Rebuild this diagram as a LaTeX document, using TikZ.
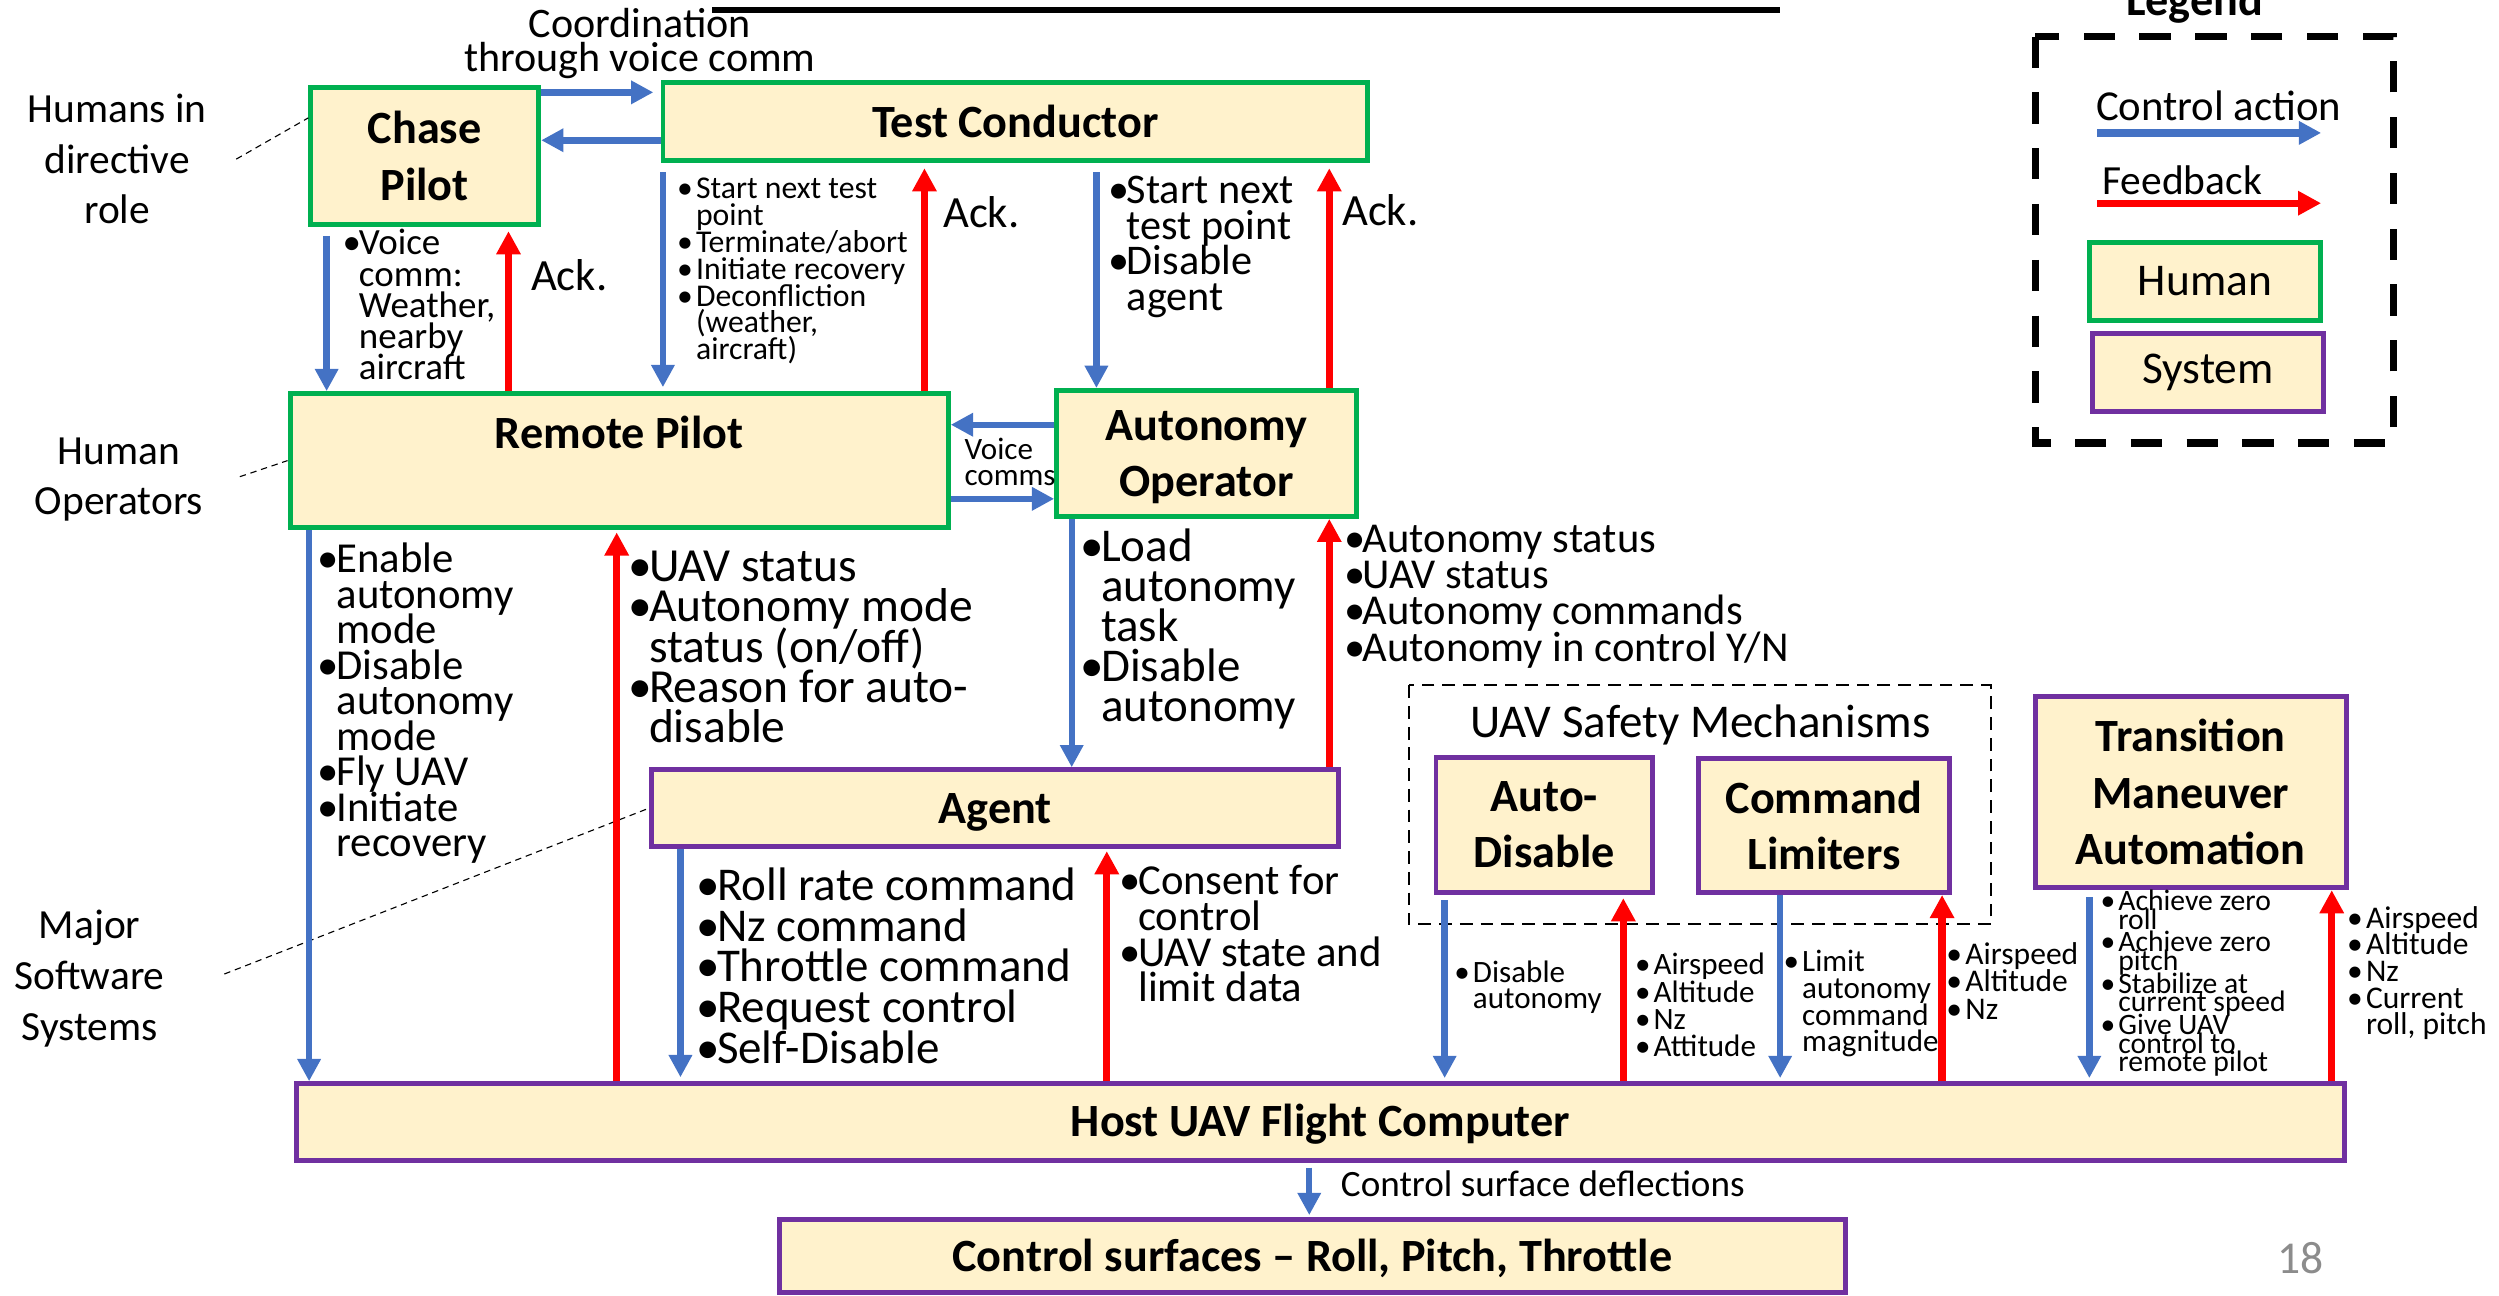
\documentclass[tikz,border=0pt]{standalone}
\usepackage{fontspec}
\setmainfont{Carlito}
\usetikzlibrary{arrows.meta}

\definecolor{boxfill}{HTML}{FFF2CC}
\definecolor{humgreen}{HTML}{00B050}
\definecolor{syspurple}{HTML}{7030A0}
\definecolor{ctrlblue}{HTML}{4472C4}
\definecolor{fbred}{HTML}{FF0000}
\definecolor{pagegray}{HTML}{8C8C8C}

\newcommand{\fsz}[2]{\fontsize{#1}{#2}\selectfont\lineskiplimit=-\maxdimen}
\newcommand{\itm}{\makebox[0.44em][l]{\textbullet}}
\newcommand{\ind}{\hspace*{0.44em}}
\newcommand{\itmw}{\makebox[0.6em][l]{\textbullet}}
\newcommand{\indw}{\hspace*{0.6em}}

\tikzset{
    human/.style={draw=humgreen, fill=boxfill, line width=3.1pt, align=center,
        inner sep=0pt, font={\bfseries\fsz{29}{35.5}}},
    system/.style={human, draw=syspurple},
    ctrl/.style={draw=ctrlblue, line width=4pt, -{Triangle[length=14pt,width=14pt]}},
    fb/.style={draw=fbred, line width=4.6pt, -{Triangle[length=14.5pt,width=14.5pt]}},
    note/.style={anchor=base west, align=left, inner sep=0pt},
    lead/.style={line width=0.7pt, dash pattern=on 4pt off 3pt}
}

\begin{document}
\begin{tikzpicture}[x=1pt,y=-1pt]
    \useasboundingbox (0,0) rectangle (1568,813);

    % Title rule
    \draw[line width=3.8pt] (447,6) -- (1117,6);

    % Humans
    \node[human, minimum width=143pt, minimum height=86pt] (cp) at (266.5,98) {Chase\\Pilot};
    \node[human, minimum width=442pt, minimum height=49pt] (tc) at (637,76.5) {Test Conductor};
    \node[human, minimum width=413pt, minimum height=84pt] (rp) at (388.5,289) {Remote Pilot\\\mbox{}};
    \node[human, minimum width=188pt, minimum height=79pt, text depth=0pt] (ao) at (757,284.5) {Autonomy\\Operator};

    % Systems
    \node[system, minimum width=431pt, minimum height=48pt, text height=25pt, text depth=6pt] (agent) at (624.5,507) {Agent};
    \node[system, minimum width=136pt, minimum height=85pt] (ad) at (969,517.5) {Auto-\\Disable};
    \node[system, minimum width=157pt, minimum height=84pt] (cl) at (1144.5,518) {Command\\Limiters};
    \node[system, minimum width=195pt, minimum height=120pt] (tma) at (1374.5,497) {Transition\\Maneuver\\Automation};
    \node[system, minimum width=1285pt, minimum height=48pt, text height=24pt, text depth=6pt] (host) at (828.5,704) {Host UAV Flight Computer};
    \node[system, minimum width=669pt, minimum height=46pt, text height=23.6pt, text depth=4pt] (cs) at (823.5,788) {Control surfaces \textendash{} Roll, Pitch, Throttle};

    % Safety mechanisms group
    \draw[line width=1.3pt, dash pattern=on 8pt off 5pt] (884,430) rectangle (1249,580);
    \node[font={\fsz{29.5}{30}}, anchor=base] (smtitle) at (1067,462.5) {UAV Safety Mechanisms};

    % Side labels (base = last line)
    \node[align=center, font={\fsz{26}{31.7}}, anchor=base] (hdir) at (73.5,140.4) {Humans in\\directive\\role};
    \node[align=center, font={\fsz{26}{31.3}}, anchor=base] (hop) at (74.7,323) {Human\\Operators};
    \node[align=center, font={\fsz{26}{32}}, anchor=base] (msw) at (56.2,653) {Major\\Software\\Systems};
    \draw[lead] ([xshift=15pt]hdir.east) -- ([yshift=-20.5pt]cp.north west);
    \draw[lead] ([xshift=19.5pt,yshift=2pt]hop.east) -- (rp.west);
    \draw[lead] ([xshift=34pt,yshift=3pt]msw.east) -- (agent.west);

    % Coordination between humans
    \node[align=center, font={\fsz{26.4}{21.6}}, anchor=base] (coord) at (401.4,45) {Coordination\\through voice comm};
    \draw[ctrl, line width=4.2pt, shorten >=4.5pt] ([yshift=-4.5pt]cp.north east) -- ([yshift=-4.5pt]cp.north east -| tc.west);
    \draw[ctrl, line width=4.2pt] ([yshift=-11.5pt]tc.west) -- ([yshift=-11.5pt]tc.west -| cp.east);

    % Chase pilot to remote pilot
    \draw[ctrl, shorten <=5.5pt] ([xshift=11.5pt]cp.south west) -- ([xshift=11.5pt]cp.south west |- rp.north);
    \draw[fb, shorten >=2.5pt] ([xshift=-20.5pt]cp.south east |- rp.north) -- ([xshift=-20.5pt]cp.south east);
    \node[note, font={\fsz{23.2}{19.6}}] (cpnote) at (214.8,238.4) {\itm Voice\\\ind comm:\\\ind Weather,\\\ind nearby\\\ind aircraft};
    \node[note, font={\fsz{28}{30}}] (ack1) at (333,182) {Ack.};

    % Test conductor to remote pilot
    \draw[ctrl, shorten <=5.5pt, shorten >=2.5pt] ([xshift=1.5pt]tc.south west) -- ([xshift=1.5pt]tc.south west |- rp.north);
    \draw[fb, shorten >=3pt] ([xshift=-16.5pt]rp.north east) -- ([xshift=-16.5pt]rp.north east |- tc.south);
    \node[note, font={\fsz{19.9}{16.8}}] (tcnote) at (424.6,225.6) {\itmw Start next test\\\indw point\\\itmw Terminate/abort\\\itmw Initiate recovery\\\itmw Deconfliction\\\indw (weather,\\\indw aircraft)};
    \node[note, font={\fsz{28}{30}}] (ack2) at (591.6,142.8) {Ack.};

    % Test conductor to autonomy operator
    \draw[ctrl, shorten <=5.5pt] ([xshift=26.5pt]ao.north west |- tc.south) -- ([xshift=26.5pt]ao.north west);
    \draw[fb, shorten >=3pt] ([xshift=-18.5pt]ao.north east) -- ([xshift=-18.5pt]ao.north east |- tc.south);
    \node[note, font={\fsz{26.5}{22.2}}] (tcaonote) at (695.2,194.6) {\itm Start next\\\ind test point\\\itm Disable\\\ind agent};
    \node[note, font={\fsz{28}{30}}] (ack3) at (842,141.2) {Ack.};

    % Voice comms between operators
    \draw[ctrl] ([yshift=18pt]ao.west) -- ([yshift=18pt]ao.west -| rp.east);
    \draw[ctrl] ([yshift=-28.5pt]ao.west -| rp.east) -- ([yshift=-28.5pt]ao.west);
    \node[note, font={\fsz{19.5}{16.3}}] (vcnote) at (605,304.9) {Voice\\comms};

    % Remote pilot to host
    \draw[ctrl] ([xshift=13.5pt]rp.south west) -- ([xshift=13.5pt]rp.south west |- host.north);
    \draw[fb, shorten >=1.5pt] ([xshift=206.5pt]rp.south west |- host.north) -- ([xshift=206.5pt]rp.south west);
    \node[note, font={\fsz{26.8}{22.25}}] (rpcmd) at (199.2,537.5) {\itm Enable\\\ind autonomy\\\ind mode\\\itm Disable\\\ind autonomy\\\ind mode\\\itm Fly UAV\\\itm Initiate\\\ind recovery};
    \node[note, font={\fsz{29.8}{25.2}}] (rpfb) at (393.9,465.8) {\itm UAV status\\\itm Autonomy mode\\\ind status (on/off)\\\itm Reason for auto-\\\ind disable};

    % Autonomy operator to agent
    \draw[ctrl] ([xshift=11pt]ao.south west) -- ([xshift=11pt]ao.south west |- agent.north);
    \draw[fb] ([xshift=-18.5pt]ao.south east |- agent.north) -- ([xshift=-18.5pt]ao.south east);
    \node[note, font={\fsz{29.5}{25.2}}] (aocmd) at (677.7,452.8) {\itm Load\\\ind autonomy\\\ind task\\\itm Disable\\\ind autonomy};
    \node[note, font={\fsz{26.7}{22.7}}] (aofb) at (843.1,414.8) {\itm Autonomy status\\\itm UAV status\\\itm Autonomy commands\\\itm Autonomy in control Y/N};

    % Agent to host
    \draw[ctrl, shorten >=2.5pt] ([xshift=19.5pt]agent.south west) -- ([xshift=19.5pt]agent.south west |- host.north);
    \draw[fb, shorten >=1.5pt] ([xshift=287pt]agent.south west |- host.north) -- ([xshift=287pt]agent.south west);
    \node[note, font={\fsz{29.5}{25.5}}] (agcmd) at (436.7,667) {\itm Roll rate command\\\itm Nz command\\\itm Throttle command\\\itm Request control\\\itm Self-Disable};
    \node[note, font={\fsz{26.8}{22.4}}] (agfb) at (702.2,628.7) {\itm Consent for\\\ind control\\\itm UAV state and\\\ind limit data};

    % Safety mechanisms to host
    \draw[ctrl, shorten <=3pt, shorten >=2pt] ([xshift=7pt]ad.south west) -- ([xshift=7pt]ad.south west |- host.north);
    \draw[fb, shorten >=2pt] ([xshift=-20pt]ad.south east |- host.north) -- ([xshift=-20pt]ad.south east);
    \node[note, font={\fsz{19.5}{16.3}}] (adcmd) at (912.3,632.8) {\itmw Disable\\\indw autonomy};
    \node[note, font={\fsz{19.5}{17.1}}] (adfb) at (1025.7,663) {\itmw Airspeed\\\itmw Altitude\\\itmw Nz\\\itmw Attitude};
    \draw[ctrl, shorten >=2pt] ([xshift=52.5pt]cl.south west) -- ([xshift=52.5pt]cl.south west |- host.north);
    \draw[fb] ([xshift=-6pt]cl.south east |- host.north) -- ([xshift=-6pt]cl.south east);
    \node[note, font={\fsz{19.5}{16.8}}] (clcmd) at (1118.9,660) {\itmw Limit\\\indw autonomy\\\indw command\\\indw magnitude};
    \node[note, font={\fsz{19.8}{17}}] (clfb) at (1221.1,639.4) {\itmw Airspeed\\\itmw Altitude\\\itmw Nz};

    % Transition maneuver automation to host
    \draw[ctrl, shorten <=4.5pt, shorten >=2pt] ([xshift=35.5pt]tma.south west) -- ([xshift=35.5pt]tma.south west |- host.north);
    \draw[fb] ([xshift=-10.5pt]tma.south east |- host.north) -- ([xshift=-10.5pt]tma.south east);
    \node[note, font={\fsz{18.6}{11.8}}] (tmacmd) at (1317.8,672.6) {\itmw Achieve zero\\\indw roll\\[2.3pt]\itmw Achieve zero\\\indw pitch\\[2.3pt]\itmw Stabilize at\\\indw current speed\\[2.3pt]\itmw Give UAV\\\indw control to\\\indw remote pilot};
    \node[note, font={\fsz{19.8}{16.7}}] (tmafb) at (1472.5,649.2) {\itmw Airspeed\\\itmw Altitude\\\itmw Nz\\\itmw Current\\\indw roll, pitch};

    % Host to control surfaces
    \draw[ctrl, shorten <=3pt, shorten >=1pt] ([xshift=-2pt]cs.north |- host.south) -- ([xshift=-2pt]cs.north);
    \node[note, font={\fsz{23.3}{26}}] (csnote) at (841.2,750.7) {Control surface deflections};

    % Legend
    \node[font={\bfseries\fsz{29}{35}}, anchor=base] (lgtitle) at (1377,10) {Legend};
    \draw[line width=4.5pt, dash pattern=on 19.6pt off 15.4pt] (1277,23) rectangle (1502,278);
    \node[note, font={\fsz{26.8}{30}}] (lgca) at (1315,75.7) {Control action};
    \coordinate (lgca1) at (1316,83.4);
    \coordinate (lgca2) at (1456.4,83.4);
    \draw[ctrl, line width=4.6pt] (lgca1) -- (lgca2);
    \node[note, font={\fsz{26}{30}}] (lgfb) at (1319,122) {Feedback};
    \coordinate (lgfb1) at (1316,127.5);
    \coordinate (lgfb2) at (1456.4,127.5);
    \draw[fb] (lgfb1) -- (lgfb2);
    \node[human, font={\fsz{28.5}{34}}, minimum width=145pt, minimum height=49pt] (lghum) at (1383.5,176.5) {Human};
    \node[system, font={\fsz{28.5}{34}}, minimum width=145pt, minimum height=49pt] (lgsys) at (1385.5,233.5) {System};

    % Page number
    \node[note, font={\fsz{28.6}{30}}, text=pagegray] (pgnum) at (1429,799.3) {18};
\end{tikzpicture}
\end{document}
